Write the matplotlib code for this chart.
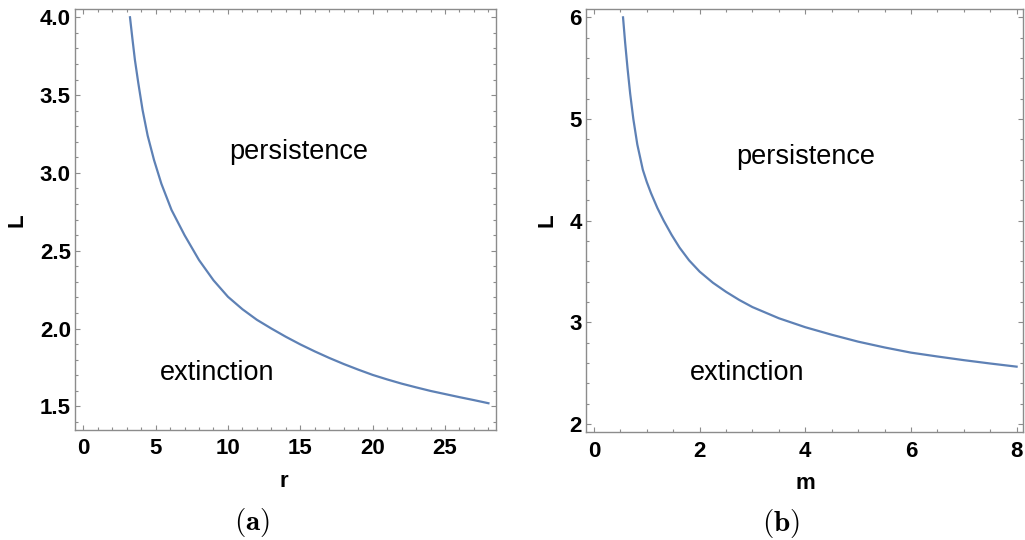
import matplotlib
matplotlib.use("Agg")
import matplotlib.pyplot as plt
from matplotlib.ticker import MultipleLocator, FormatStrFormatter

plt.rcParams['font.family'] = ['Liberation Sans', 'DejaVu Sans']
plt.rcParams['font.weight'] = 'bold'
plt.rcParams['xtick.labelsize'] = 16
plt.rcParams['ytick.labelsize'] = 16
plt.rcParams['mathtext.fontset'] = 'cm'

# threshold curve L(r)
r_vals = [3.23, 3.4, 3.57, 3.8, 4.1, 4.45, 4.89, 5.4, 6.1, 7.0, 8.0, 9.0, 10.0, 11.0, 12.0,
          13.0, 14.0, 15.0, 16.0, 17.0, 18.0, 19.0, 20.0, 21.0, 22.0, 23.0, 24.0, 25.0,
          26.0, 27.0, 28.0]
L_r = [4.0, 3.86, 3.726, 3.58, 3.404, 3.24, 3.083, 2.93, 2.762, 2.60, 2.44, 2.31, 2.204,
       2.124, 2.056, 2.0, 1.947, 1.898, 1.853, 1.811, 1.772, 1.736, 1.702, 1.673, 1.646,
       1.622, 1.599, 1.579, 1.559, 1.54, 1.52]

# threshold curve L(m)
m_vals = [0.55, 0.59, 0.635, 0.685, 0.745, 0.82, 0.925, 1.0, 1.08, 1.2, 1.32, 1.47, 1.62,
          1.8, 2.0, 2.25, 2.5, 2.75, 3.0, 3.5, 4.0, 4.5, 5.0, 5.5, 6.0, 6.5, 7.0, 7.5, 8.0]
L_m = [6.0, 5.75, 5.5, 5.25, 5.0, 4.75, 4.5, 4.38, 4.27, 4.125, 4.0, 3.86, 3.735,
       3.61, 3.499, 3.39, 3.30, 3.22, 3.15, 3.04, 2.952, 2.878, 2.81, 2.753, 2.702,
       2.664, 2.628, 2.595, 2.564]

line_color = '#5E81B5'
frame_color = '#8c8c8c'
label_font = {'family': 'Liberation Sans', 'weight': 'bold', 'size': 16}
region_font = {'family': 'Liberation Sans', 'weight': 'normal', 'size': 19.5}


def style_axes(ax, xmaj, xmin, ymaj, ymin):
    for s in ax.spines.values():
        s.set_color(frame_color)
        s.set_linewidth(1.0)
    ax.xaxis.set_major_locator(MultipleLocator(xmaj))
    ax.xaxis.set_minor_locator(MultipleLocator(xmin))
    ax.yaxis.set_major_locator(MultipleLocator(ymaj))
    ax.yaxis.set_minor_locator(MultipleLocator(ymin))
    ax.tick_params(which='both', direction='in', top=True, right=True,
                   color=frame_color, width=0.8, labelcolor='black')
    ax.tick_params(which='major', length=3.8)
    ax.tick_params(which='minor', length=2.2)
    ax.tick_params(axis='x', pad=6)
    ax.tick_params(axis='y', pad=3)


fig = plt.figure(figsize=(10.25, 5.4), dpi=100)

ax1 = fig.add_axes([0.07317, 0.2037, 0.4107, 0.779])
ax1.plot(r_vals, L_r, color=line_color, lw=1.6)
ax1.set_xlim(-0.57, 28.52)
ax1.set_ylim(1.348, 4.051)
style_axes(ax1, 5, 1, 0.5, 0.1)
ax1.yaxis.set_major_formatter(FormatStrFormatter('%.1f'))
ax1.text(14.86, 3.136, 'persistence', ha='center', va='center', fontdict=region_font)
ax1.text(9.22, 1.716, 'extinction', ha='center', va='center', fontdict=region_font)
ax1.set_xlabel('r', fontdict=label_font, va='center')
ax1.xaxis.set_label_coords(0.4964, -0.1229)
ax1.set_ylabel('L', fontdict=label_font, va='center')
ax1.yaxis.set_label_coords(-0.1385, 0.499)

ax2 = fig.add_axes([0.5714, 0.1994, 0.4271, 0.7839])
ax2.plot(m_vals, L_m, color=line_color, lw=1.6)
ax2.set_xlim(-0.157, 8.13)
ax2.set_ylim(1.918, 6.082)
style_axes(ax2, 2, 0.5, 1, 0.2)
ax2.text(4.0, 4.623, 'persistence', ha='center', va='center', fontdict=region_font)
ax2.text(2.90, 2.50, 'extinction', ha='center', va='center', fontdict=region_font)
ax2.set_xlabel('m', fontdict=label_font, va='center')
ax2.xaxis.set_label_coords(0.5025, -0.1205)
ax2.set_ylabel('L', fontdict=label_font, va='center')
ax2.yaxis.set_label_coords(-0.0891, 0.5015)

# panel captions
fig.text(252.3 / 1025, 1 - 522.7 / 540, r'$\mathbf{(a)}$', ha='center', va='center', fontsize=21)
fig.text(781 / 1025, 1 - 523.3 / 540, r'$\mathbf{(b)}$', ha='center', va='center', fontsize=21)

fig.savefig('out.png', dpi=100)
